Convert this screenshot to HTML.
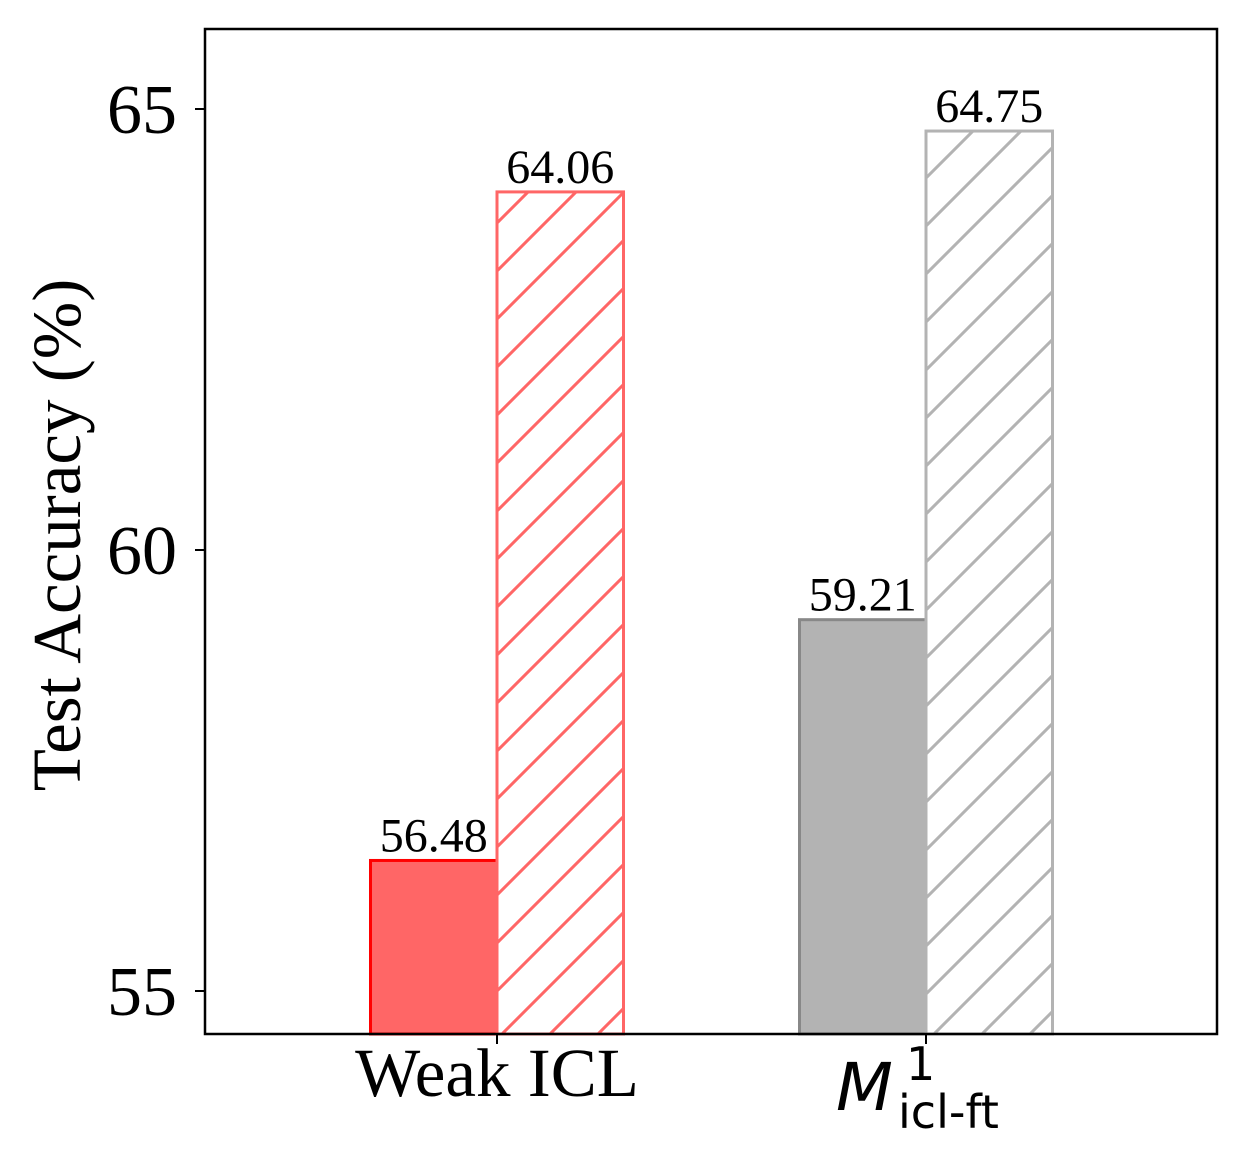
<!DOCTYPE html>
<html><head><meta charset="utf-8"><style>
body{margin:0;background:#fff}
svg text{font-family:"Liberation Serif",serif;fill:#000}
</style></head><body>
<svg id="c" width="1246" height="1164">
<defs>
<pattern id="hr" patternUnits="userSpaceOnUse" width="48" height="48"><path d="M-12,12 L12,-12 M0,48 L48,0 M36,60 L60,36" stroke="#ff6666" stroke-width="3"/></pattern>
<pattern id="hg" patternUnits="userSpaceOnUse" width="48" height="48"><path d="M-12,12 L12,-12 M0,48 L48,0 M36,60 L60,36" stroke="#b3b3b3" stroke-width="3"/></pattern>
</defs>
</svg>
<script>
const categories=["Weak ICL","M"];
const baseValues=[56.48,59.21];
const ftValues=[64.06,64.75];
const yTicks=[55,60,65];
const svg=document.getElementById('c');
const NS='http://www.w3.org/2000/svg';
const L=205,R=1217,T=29,B=1034;
const y=v=>991-(v-55)*88.2;
const x=i=>497+i*429;
const bw=126.5;
function el(t,a,p){const e=document.createElementNS(NS,t);for(const k in a)e.setAttribute(k,a[k]);(p||svg).appendChild(e);return e;}
const fills=[["#ff6666","#ff0000","url(#hr)","#ff6666"],["#b3b3b3","#888888","url(#hg)","#b3b3b3"]];
categories.forEach((c,i)=>{
  const b=el('rect',{x:x(i)-bw,y:y(baseValues[i]),width:bw,height:B-y(baseValues[i]),fill:fills[i][0],stroke:fills[i][1],'stroke-width':3});
  
  
  const h=el('rect',{x:x(i),y:y(ftValues[i]),width:bw,height:B-y(ftValues[i]),fill:fills[i][2],stroke:fills[i][3],'stroke-width':3});
  
  
  const t1=el('text',{x:x(i)-bw/2,y:y(baseValues[i])-9,'text-anchor':'middle','font-size':48});
  t1.textContent=baseValues[i].toFixed(2);
  
  
  const t2=el('text',{x:x(i)+bw/2,y:y(ftValues[i])-9,'text-anchor':'middle','font-size':48});
  t2.textContent=ftValues[i].toFixed(2);
  
  
  el('line',{x1:x(i),x2:x(i),y1:B,y2:B+10,stroke:'#000','stroke-width':2});
});
yTicks.forEach(v=>{
  el('line',{x1:L-10,x2:L,y1:y(v),y2:y(v),stroke:'#000','stroke-width':2});
  const t=el('text',{x:L-28,y:y(v)+24,'text-anchor':'end','font-size':70});
  t.textContent=v;
  
  
});
const ax=el('rect',{x:L,y:T,width:R-L,height:B-T,fill:'none',stroke:'#000','stroke-width':2.5});


const xl=el('text',{x:x(0),y:1096,'text-anchor':'middle','font-size':69});
xl.textContent=categories[0];


const g=el('text',{x:838,y:1110,'font-size':66,style:'font-family:"DejaVu Sans",sans-serif'});


const gm=el('tspan',{x:836,y:1110,'font-style':'italic'},g);gm.textContent='M';
const g1=el('tspan',{x:906,y:1080,'font-size':46},g);g1.textContent='1';
const g2=el('tspan',{x:898,y:1128,'font-size':46},g);g2.textContent='icl-ft';
const yl=el('text',{x:0,y:0,'text-anchor':'middle','font-size':69,transform:'translate(80,535) rotate(-90)'});
yl.textContent='Test Accuracy (%)';


</script>
</body></html>
